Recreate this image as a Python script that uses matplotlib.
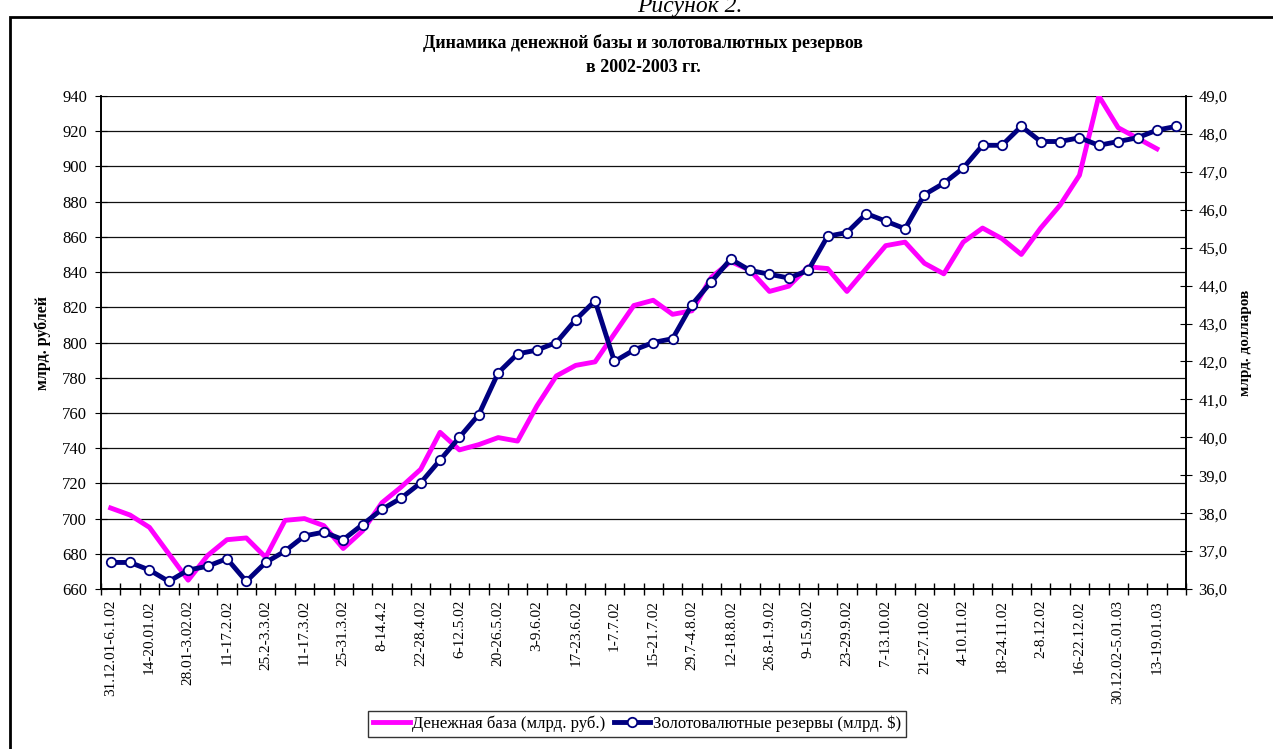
import matplotlib.pyplot as plt
from matplotlib.patches import Rectangle
import numpy as np

# weekly data, 56 weeks from 31.12.01 to 26.01.03
money_base = [706, 702, 695, 680, 665, 679, 688, 689, 678, 699,
              700, 696, 683, 693, 709, 718, 728, 749, 739, 742,
              746, 744, 764, 781, 787, 789, 805, 821, 824, 816,
              818, 837, 846, 841, 829, 832, 843, 842, 829, 842,
              855, 857, 845, 839, 857, 865, 859, 850, 865, 878,
              895, 940, 922, 916, 910, np.nan]
reserves = [36.7, 36.7, 36.5, 36.2, 36.5, 36.6, 36.8, 36.2, 36.7, 37.0,
            37.4, 37.5, 37.3, 37.7, 38.1, 38.4, 38.8, 39.4, 40.0, 40.6,
            41.7, 42.2, 42.3, 42.5, 43.1, 43.6, 42.0, 42.3, 42.5, 42.6,
            43.5, 44.1, 44.7, 44.4, 44.3, 44.2, 44.4, 45.3, 45.4, 45.9,
            45.7, 45.5, 46.4, 46.7, 47.1, 47.7, 47.7, 48.2, 47.8, 47.8,
            47.9, 47.7, 47.8, 47.9, 48.1, 48.2]
# labels shown for every second week
week_labels = ['31.12.01-6.1.02', '14-20.01.02', '28.01-3.02.02', '11-17.2.02',
               '25.2-3.3.02', '11-17.3.02', '25-31.3.02', '8-14.4.2',
               '22-28.4.02', '6-12.5.02', '20-26.5.02', '3-9.6.02',
               '17-23.6.02', '1-7.7.02', '15-21.7.02', '29.7-4.8.02',
               '12-18.8.02', '26.8-1.9.02', '9-15.9.02', '23-29.9.02',
               '7-13.10.02', '21-27.10.02', '4-10.11.02', '18-24.11.02',
               '2-8.12.02', '16-22.12.02', '30.12.02-5.01.03', '13-19.01.03']

plt.rcParams['font.family'] = ['Liberation Serif', 'DejaVu Serif']
W, H = 1273, 749
fig = plt.figure(figsize=(W / 100, H / 100), dpi=100)

# outer frame and caption cut at the top
fig.patches.append(Rectangle((10 / W, -0.1), 1.2, 1 - 17 / H + 0.1, transform=fig.transFigure,
                             fill=False, edgecolor='black', linewidth=2))
fig.text(690 / W, 1 - 12 / H, 'Рисунок 2.', style='italic', fontsize=17,
         ha='center', va='baseline')
fig.text(643 / W, 1 - 43 / H, 'Динамика денежной базы и золотовалютных резервов',
         fontsize=13, fontweight='bold', ha='center', va='center')
fig.text(643 / W, 1 - 67 / H, 'в 2002-2003 гг.',
         fontsize=13, fontweight='bold', ha='center', va='center')

ax = fig.add_axes([101 / W, (H - 589) / H, 1085 / W, 493 / H])
ax2 = ax.twinx()

x = np.arange(len(reserves))
l1, = ax.plot(x, money_base, color='#ff00ff', linewidth=3.5, zorder=3,
              label='Денежная база (млрд. руб.)')
l2, = ax2.plot(x, reserves, color='#000080', linewidth=3.5, marker='o',
               markersize=6.8, markerfacecolor='white', markeredgecolor='#000080',
               markeredgewidth=1.3, label='Золотовалютные резервы (млрд. $)')

ax.set_xlim(-0.5, len(reserves) - 0.5)
ax.set_ylim(660, 940)
ax.set_yticks(np.arange(660, 941, 20))
ax2.set_ylim(36, 49)
ax2.set_yticks(np.arange(36, 49.1, 1))
ax2.set_yticklabels([f'{v:.1f}'.replace('.', ',') for v in np.arange(36, 49.1, 1)])

ax.grid(axis='y', color='#111111', linewidth=0.9)
ax.set_axisbelow(True)

# tick marks on category borders, labels in the middle of every second week
ax.set_xticks(np.arange(-0.5, len(reserves), 1))
ax.set_xticklabels([])
ax.set_xticks(np.arange(0, len(reserves), 2), minor=True)
ax.set_xticklabels(week_labels, minor=True, rotation=90, fontsize=11)
ax.tick_params(axis='x', which='major', direction='inout', length=8, width=1)
ax.tick_params(axis='x', which='minor', length=0, pad=8)
ax.tick_params(axis='y', direction='inout', length=8, labelsize=12, pad=6)
ax2.tick_params(axis='y', direction='inout', length=8, labelsize=12, pad=5)

for a in (ax, ax2):
    a.spines['top'].set_visible(False)
    for s in ('left', 'right', 'bottom'):
        a.spines[s].set_linewidth(1.2)

ax.set_ylabel('млрд. рублей', fontweight='bold', fontsize=11.5, labelpad=8)
ax2.set_ylabel('млрд. долларов', fontweight='bold', fontsize=11, labelpad=8)

leg = fig.legend(handles=[l1, l2], loc='center', bbox_to_anchor=(637 / W, 1 - 724 / H),
                 ncol=2, fontsize=12, frameon=True, fancybox=False, edgecolor='black',
                 handlelength=2.2, handletextpad=0.15, columnspacing=0.5,
                 borderpad=0.3, borderaxespad=0)
leg.get_frame().set_linewidth(1)

plt.savefig('out.png', dpi=100)
